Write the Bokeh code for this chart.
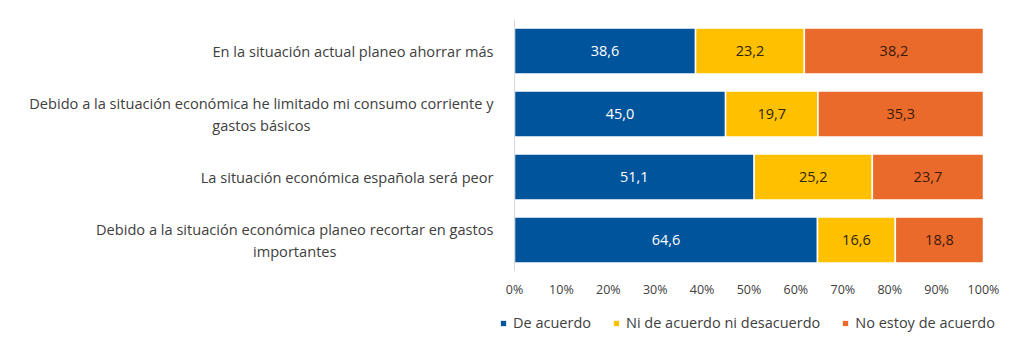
from bokeh.plotting import figure
from bokeh.layouts import column
from bokeh.models import (ColumnDataSource, Range1d, FactorRange, FixedTicker, Span,
                          Legend, LegendItem)
from bokeh.core.properties import value
from bokeh.embed import file_html
from bokeh.resources import INLINE

categories = [
    "En la situación actual planeo ahorrar más",
    "Debido a la situación económica he limitado mi consumo corriente y\ngastos básicos",
    "La situación económica española será peor",
    "Debido a la situación económica planeo recortar en gastos\nimportantes",
]
series_names = ["De acuerdo", "Ni de acuerdo ni desacuerdo", "No estoy de acuerdo"]
de_acuerdo = [38.6, 45.0, 51.1, 64.6]
ni_ni = [23.2, 19.7, 25.2, 16.6]
no_acuerdo = [38.2, 35.3, 23.7, 18.8]
tick_values = [0, 10, 20, 30, 40, 50, 60, 70, 80, 90, 100]
tick_labels = ["0%", "10%", "20%", "30%", "40%", "50%", "60%", "70%", "80%", "90%", "100%"]

colors = ["#00549C", "#FFC000", "#EA6A2B"]
text_colors = ["#FFFFFF", "#2E2410", "#3A1A0C"]
FONT = "Open Sans"

keys = ["a", "b", "c"]
data = {"cat": categories, "a": de_acuerdo, "b": ni_ni, "c": no_acuerdo}
source = ColumnDataSource(data)

p = figure(width=1025, height=302, output_backend="svg", toolbar_location=None,
           x_range=Range1d(-105.76, 105.33), y_range=FactorRange(factors=categories[::-1]),
           min_border_left=18, min_border_right=17, min_border_top=19, min_border_bottom=31)

renderers = p.hbar_stack(keys, y="cat", height=0.73, color=colors, source=source,
                         line_color="white", line_width=1.5)

# value labels
series = [de_acuerdo, ni_ni, no_acuerdo]
for si, vals in enumerate(series):
    xs, ys, ts = [], [], []
    for ci, v in enumerate(vals):
        start = sum(series[k][ci] for k in range(si))
        xs.append(start + v / 2)
        ys.append(categories[ci])
        ts.append(f"{v:.1f}".replace(".", ","))
    p.text(x=xs, y=ys, text=ts, text_align="center", text_baseline="middle",
           text_font=value(FONT), text_font_size="14.5px", text_color=text_colors[si])

# category labels (centered lines, right-anchored block)
p.text(x=[0] * len(categories), y=categories, text=categories, x_offset=-21,
       text_align="center", anchor="center_right", text_baseline="middle",
       text_font=value(FONT), text_font_size="14.6px", text_color="#404040",
       text_line_height=1.06)

p.add_layout(Span(location=0, dimension="height", line_color="#D9D9D9", line_width=1))

p.yaxis.visible = False
p.xgrid.visible = False
p.ygrid.visible = False
p.outline_line_color = None

xa = p.xaxis[0]
xa.ticker = FixedTicker(ticks=tick_values)
xa.major_label_overrides = {v: l for v, l in zip(tick_values, tick_labels)}
xa.axis_line_color = None
xa.major_tick_line_color = None
xa.minor_tick_line_color = None
xa.major_tick_out = 0
xa.major_tick_in = 0
xa.major_label_standoff = 9
xa.major_label_text_font = FONT
xa.major_label_text_font_size = "12.5px"
xa.major_label_text_color = "#404040"

# legend in its own strip below the chart (zero-size handles carry the swatch colours)
pl = figure(width=1025, height=49, output_backend="svg", toolbar_location=None,
            min_border=0, x_range=Range1d(0, 1), y_range=Range1d(0, 1))
pl.axis.visible = False
pl.xgrid.visible = False
pl.ygrid.visible = False
pl.outline_line_color = None
leg_renderers = [pl.hbar(y=[0.5], left=[0], right=[0], height=0, color=c,
                         line_color="white", line_width=1)
                 for c in colors]
legend = Legend(items=[LegendItem(label=n, renderers=[r]) for n, r in zip(series_names, leg_renderers)],
                orientation="horizontal", location=(481, 19),
                glyph_width=8, glyph_height=8, label_standoff=6, spacing=21, label_height=16,
                padding=0, margin=0, border_line_color=None, background_fill_alpha=0,
                label_text_font=FONT, label_text_font_size="14.5px", label_text_color="#404040")
pl.add_layout(legend, "center")

layout = column(p, pl, spacing=0)
open("out.html", "w").write(file_html(layout, INLINE))
